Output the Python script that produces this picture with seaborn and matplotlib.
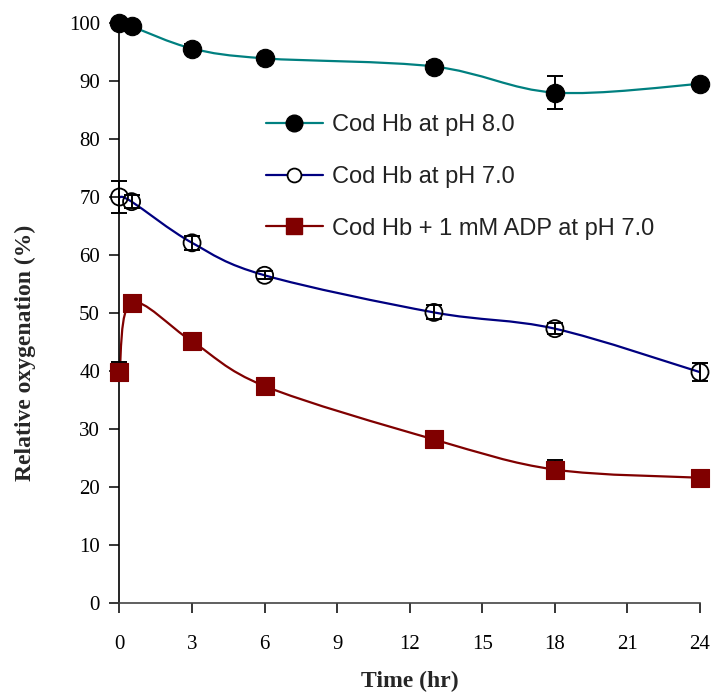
import numpy as np
import matplotlib
matplotlib.use("Agg")
import matplotlib.pyplot as plt
from matplotlib.path import Path
from matplotlib.patches import PathPatch
from matplotlib.lines import Line2D
import seaborn as sns

# Sampling times (hr)
time_hr = [0, 0.5, 3, 6, 13, 18, 24]

# Relative oxygenation (%) and error bars for each condition
ph8_mean = [100.0, 99.4, 95.6, 93.9, 92.5, 88.0, 89.5]
ph8_err = [0.3, 0.7, 0.7, 0.5, 0.8, 2.8, 0.6]

ph7_mean = [70.0, 69.2, 62.1, 56.5, 50.1, 47.3, 39.8]
ph7_err = [2.8, 1.1, 1.2, 0.7, 1.2, 0.9, 1.6]

adp_mean = [39.9, 51.8, 45.1, 37.4, 28.2, 23.0, 21.6]
adp_err = [1.6, 0.7, 0.8, 0.6, 1.3, 1.6, 0.5]

labels = ["Cod Hb at pH 8.0", "Cod Hb at pH 7.0", "Cod Hb + 1 mM ADP at pH 7.0"]
line_colors = ["#008080", "#000080", "#800000"]

sns.set_style("ticks")
plt.rcParams["font.family"] = ["Liberation Serif", "DejaVu Serif"]

fig = plt.figure(figsize=(7.14, 6.98), dpi=100)
ax = fig.add_axes([119.5 / 714, 1 - 603 / 698, (700 - 119.5) / 714, (603 - 23) / 698])


def smooth_path(xs, ys):
    """Cubic Bezier path through the points (Catmull-Rom style tangents)."""
    pts = np.column_stack([xs, ys]).astype(float)
    n = len(pts)
    verts = [pts[0]]
    codes = [Path.MOVETO]
    for i in range(n - 1):
        p_prev = pts[i - 1] if i > 0 else pts[i]
        p_next2 = pts[i + 2] if i + 2 < n else pts[i + 1]
        c1 = pts[i] + (pts[i + 1] - p_prev) / 6.0
        c2 = pts[i + 1] - (p_next2 - pts[i]) / 6.0
        verts += [c1, c2, pts[i + 1]]
        codes += [Path.CURVE4] * 3
    return Path(verts, codes)


series = [
    (ph8_mean, ph8_err, dict(marker="o", s=175, color="black", edgecolor="black", linewidth=0.8)),
    (ph7_mean, ph7_err, dict(marker="o", s=150, facecolor="none", edgecolor="black", linewidth=1.3)),
    (adp_mean, adp_err, dict(marker="s", s=185, color="#800000", edgecolor="#800000", linewidth=0.8)),
]

for (mean, err, mk), col in zip(series, line_colors):
    ax.add_patch(PathPatch(smooth_path(time_hr, mean), facecolor="none",
                           edgecolor=col, linewidth=1.6, zorder=2, clip_on=False))
    eb = ax.errorbar(time_hr, mean, yerr=err, fmt="none", ecolor="black",
                     elinewidth=1.4, capsize=6, capthick=1.4, zorder=3)
    for artist in eb.lines[1] + eb.lines[2]:
        artist.set_clip_on(False)
    sns.scatterplot(x=time_hr, y=mean, ax=ax, zorder=4, legend=False,
                    clip_on=False, **mk)

ax.set_xlim(0, 24)
ax.set_ylim(0, 100)
ax.set_xticks(np.arange(0, 25, 3))
ax.set_yticks(np.arange(0, 101, 10))
ax.tick_params(axis="x", direction="out", length=7, width=1.1, pad=16,
               labelsize=15, colors="black")
ax.tick_params(axis="y", direction="out", length=7, width=1.1, pad=7,
               labelsize=15, colors="black")
for side in ["top", "right"]:
    ax.spines[side].set_visible(False)
for side in ["left", "bottom"]:
    ax.spines[side].set_linewidth(1.2)
    ax.spines[side].set_color("black")
ax.spines["bottom"].set_color("#444444")

ax.set_xlabel("Time (hr)", fontsize=17, fontweight="bold", labelpad=12)
ax.set_ylabel("Relative oxygenation (%)", fontsize=17, fontweight="bold")
ax.yaxis.set_label_coords(-0.144, 0.431)

handles = [
    Line2D([], [], color=line_colors[0], lw=1.6, marker="o", markersize=12,
           markerfacecolor="black", markeredgecolor="black"),
    Line2D([], [], color=line_colors[1], lw=1.6, marker="o", markersize=10,
           markerfacecolor="white", markeredgecolor="black", markeredgewidth=1.3),
    Line2D([], [], color=line_colors[2], lw=1.6, marker="s", markersize=11,
           markerfacecolor="#800000", markeredgecolor="#800000"),
]
leg = ax.legend(handles, labels, loc="center left",
                bbox_to_anchor=(266 / 714, 1 - 177 / 698), bbox_transform=fig.transFigure,
                frameon=False, borderpad=0, borderaxespad=0, handlelength=2.4,
                handletextpad=0.4, labelspacing=1.25,
                prop={"family": "Liberation Sans", "size": 17})
for t in leg.get_texts():
    t.set_color("#222222")

fig.savefig("out.png", dpi=100)
